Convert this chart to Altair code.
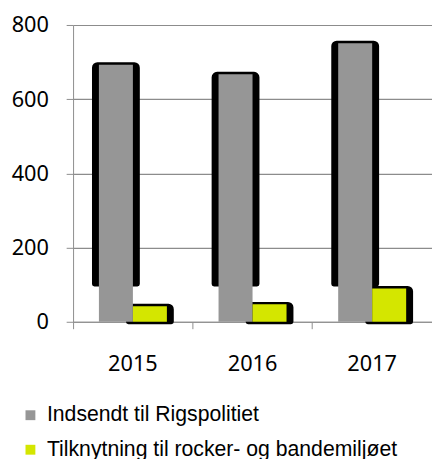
import altair as alt
import pandas as pd

years = ["2015", "2016", "2017"]
series = ["Indsendt til Rigspolitiet", "Tilknytning til rocker- og bandemiljøet"]
indsendt = [693, 667, 751]
tilknytning = [42, 47, 90]
colors = ["#969696", "#D4E600"]
# lower end of the dark "shadow" drawn behind each bar series
shadow_base = [102, 0]

rows = []
for i, y in enumerate(years):
    rows.append({"year": y, "series": series[0], "value": indsendt[i], "base": shadow_base[0]})
    rows.append({"year": y, "series": series[1], "value": tilknytning[i], "base": shadow_base[1]})
df = pd.DataFrame(rows)

x_enc = alt.X("year:N", sort=years,
              scale=alt.Scale(paddingInner=0, paddingOuter=0),
              axis=alt.Axis(title=None, labelAngle=0, bandPosition=0, tickSize=7,
                            labelFont="Noto Sans", labelFontSize=22, labelColor="#000000",
                            labelPadding=25, domainColor="#8c8c8c", tickColor="#8c8c8c",
                            labelFlush=False, grid=False))
xoff = alt.XOffset("series:N", sort=series,
                   scale=alt.Scale(paddingInner=0, paddingOuter=0.76))
y_enc = alt.Y("value:Q",
              scale=alt.Scale(domain=[0, 800], nice=False),
              axis=alt.Axis(title=None, values=[0, 200, 400, 600, 800], tickSize=7,
                            labelFont="Noto Sans", labelFontSize=22, labelColor="#000000",
                            labelPadding=18, domainColor="#8c8c8c", tickColor="#8c8c8c",
                            gridColor="#8c8c8c", gridWidth=1.2,
                            minExtent=66, maxExtent=66))

shadow = alt.Chart(df).mark_bar(
    color="#000000", stroke="#000000", strokeWidth=5, strokeJoin="round",
    cornerRadiusTopLeft=3, cornerRadiusTopRight=3,
    width=43.5
).encode(x=x_enc, xOffset=xoff, y=y_enc, y2="base:Q")

bars = alt.Chart(df).mark_bar().encode(
    x=x_enc, xOffset=xoff, y=y_enc,
    color=alt.Color("series:N", sort=series,
                    scale=alt.Scale(domain=series, range=colors),
                    legend=alt.Legend(title=None, orient="none", legendX=-54, legendY=385,
                                      direction="vertical", symbolType="square",
                                      symbolSize=100, symbolStrokeWidth=0,
                                      labelFont="Liberation Sans", labelFontSize=21.5,
                                      labelColor="#000000", labelOffset=6,
                                      rowPadding=12, padding=0, labelLimit=400))
)

chart = alt.layer(shadow, bars).properties(
    width=364, height=301,
    padding={"left": 0, "top": 3, "right": 0, "bottom": 0}
).configure_view(stroke=None)

chart.save("out.html", embed_options={"renderer": "svg", "actions": False})
